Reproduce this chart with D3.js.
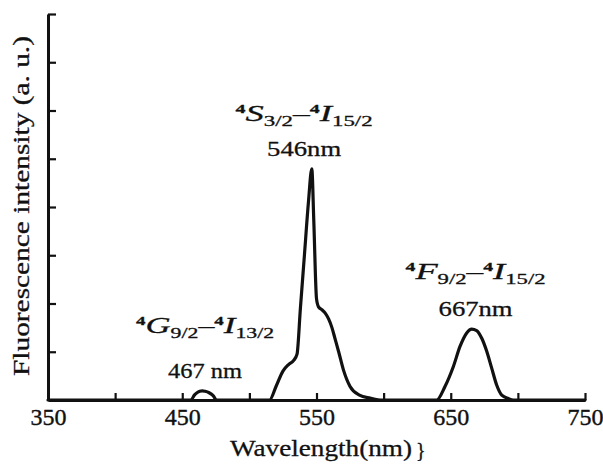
<!DOCTYPE html>
<meta charset="UTF-8">
<head>
  <style>
    body { margin: 0; background: #fff; }
    svg { display: block; font-family: "Liberation Serif", "Times New Roman", serif; }
    .axis path, .axis line { stroke: #111; stroke-width: 3px; }
    .axis text { fill: #111; font-size: 24px; font-family: "Liberation Serif", serif; stroke: #111; stroke-width: 0.4px; }
    .spectrum { fill: none; stroke: #111; stroke-width: 3.2px; stroke-linejoin: round; stroke-linecap: round; }
    .lbl { fill: #111; stroke: #111; stroke-width: 0.3px; }
  </style>
</head>
<body>
  <script src="https://d3js.org/d3.v7.min.js"></script>
  <script type="text/javascript">
    // spectrum (wavelength in nm, intensity in a.u.)
    var wavelength = [350, 456.5, 459, 461, 463, 465, 467, 470, 473, 475.5,
      515, 520, 525, 529, 533, 535.5, 538, 541, 544, 546.5, 548, 550, 551.5, 554, 556.5,
      559, 561.5, 564, 566.5, 570, 575, 582, 590, 599,
      639.5, 645.7, 651.9, 656.9, 661.9, 665.6, 669.3, 673.1, 676.8, 680.5, 684.2, 688, 692.9, 696.6, 750];
    var intensity = [0, 0, 0.1, 0.15, 0.18, 0.19, 0.18, 0.15, 0.09, 0,
      0, 0.29, 0.6, 0.73, 0.82, 0.95, 1.9, 3.0, 4.1, 4.79, 3.7, 2.1, 1.93, 1.87, 1.8,
      1.68, 1.5, 1.25, 1.0, 0.63, 0.28, 0.1, 0.04, 0,
      0, 0.28, 0.69, 1.11, 1.39, 1.47, 1.44, 1.28, 1.01, 0.66, 0.31, 0.1, 0.03, 0, 0];

    var xTicks = [350, 400, 450, 500, 550, 600, 650, 700, 750];
    var xTickLabels = [350, 450, 550, 650, 750];
    var yTicks = [1, 2, 3, 4, 5, 6, 7, 8];

    // peak annotations
    var peakNm = [467, 546, 667];
    var peakValue = [0.19, 4.79, 1.47];
    var peakText = ["467 nm", "546nm", "667nm"];
    var upperState = [["G", "9/2"], ["S", "3/2"], ["F", "9/2"]];
    var lowerState = [["I", "13/2"], ["I", "15/2"], ["I", "15/2"]];

    var W = 603, H = 464;
    var svg = d3.select("body").append("svg").attr("width", W).attr("height", H);

    var x = d3.scaleLinear().domain([350, 750]).range([48, 585]);
    var y = d3.scaleLinear().domain([0, 8]).range([400, 14]);

    // x axis, ticks pointing inward
    svg.append("g")
      .attr("class", "axis")
      .attr("transform", "translate(0," + y(0) + ")")
      .call(d3.axisBottom(x).tickValues(xTicks).tickSizeInner(-7).tickSizeOuter(0).tickPadding(8)
        .tickFormat(function (d) { return xTickLabels.indexOf(d) >= 0 ? d : ""; }));

    // y axis, no labels
    svg.append("g")
      .attr("class", "axis")
      .attr("transform", "translate(" + x(350) + ",0)")
      .call(d3.axisLeft(y).tickValues(yTicks).tickSizeInner(-8).tickSizeOuter(0).tickFormat(""));

    svg.selectAll(".axis .tick line").style("stroke-width", "2.2px");

    // spectrum curve
    var pts = wavelength.map(function (w, i) { return [w, intensity[i]]; });
    var line = d3.line()
      .x(function (d) { return x(d[0]); })
      .y(function (d) { return y(d[1]); })
      .curve(d3.curveMonotoneX);
    svg.append("path").attr("class", "spectrum").attr("d", line(pts));

    // axis titles
    svg.append("text")
      .attr("class", "lbl")
      .attr("transform", "translate(29,206) rotate(-90)")
      .attr("text-anchor", "middle")
      .attr("textLength", 340)
      .attr("lengthAdjust", "spacingAndGlyphs")
      .style("font-size", "23px")
      .text("Fluorescence intensity (a. u.)");

    svg.append("text")
      .attr("class", "lbl")
      .attr("x", 321).attr("y", 456)
      .attr("text-anchor", "middle")
      .attr("textLength", 182)
      .attr("lengthAdjust", "spacingAndGlyphs")
      .style("font-size", "24px")
      .text("Wavelength(nm)");
    svg.append("text")
      .attr("class", "lbl")
      .attr("x", 416).attr("y", 457)
      .style("font-size", "20px")
      .text("}");

    // peak labels: nm value and transition above it
    var labelShift = [0, -7, 2];
    var transGap = [45, 35, 37];
    var transWidth = [138, 137, 140];

    peakNm.forEach(function (nm, i) {
      var cx = x(nm) + labelShift[i];
      var nmY = y(peakValue[i]) - 13;

      svg.append("text")
        .attr("class", "lbl")
        .attr("x", cx).attr("y", nmY)
        .attr("text-anchor", "middle")
        .attr("textLength", 74)
        .attr("lengthAdjust", "spacingAndGlyphs")
        .style("font-size", "22px")
        .text(peakText[i]);

      var t = svg.append("text")
        .attr("class", "lbl")
        .attr("x", cx).attr("y", nmY - transGap[i])
        .attr("text-anchor", "middle")
        .attr("textLength", transWidth[i])
        .attr("lengthAdjust", "spacingAndGlyphs");

      // ^4 X_{a/b} – ^4 I_{c/d}
      t.append("tspan").attr("dy", -8).style("font-size", "13px").style("font-weight", "bold").text("4");
      t.append("tspan").attr("dy", 8).style("font-size", "24px").style("font-style", "italic").text(upperState[i][0]);
      t.append("tspan").attr("dy", 5).style("font-size", "15px").text(upperState[i][1]);
      t.append("tspan").attr("dy", -5).style("font-size", "22px").text("\u2013");
      t.append("tspan").attr("dy", -8).style("font-size", "13px").style("font-weight", "bold").text("4");
      t.append("tspan").attr("dy", 8).style("font-size", "24px").style("font-style", "italic").text(lowerState[i][0]);
      t.append("tspan").attr("dy", 5).style("font-size", "15px").text(lowerState[i][1]);
    });
  </script>
</body>
